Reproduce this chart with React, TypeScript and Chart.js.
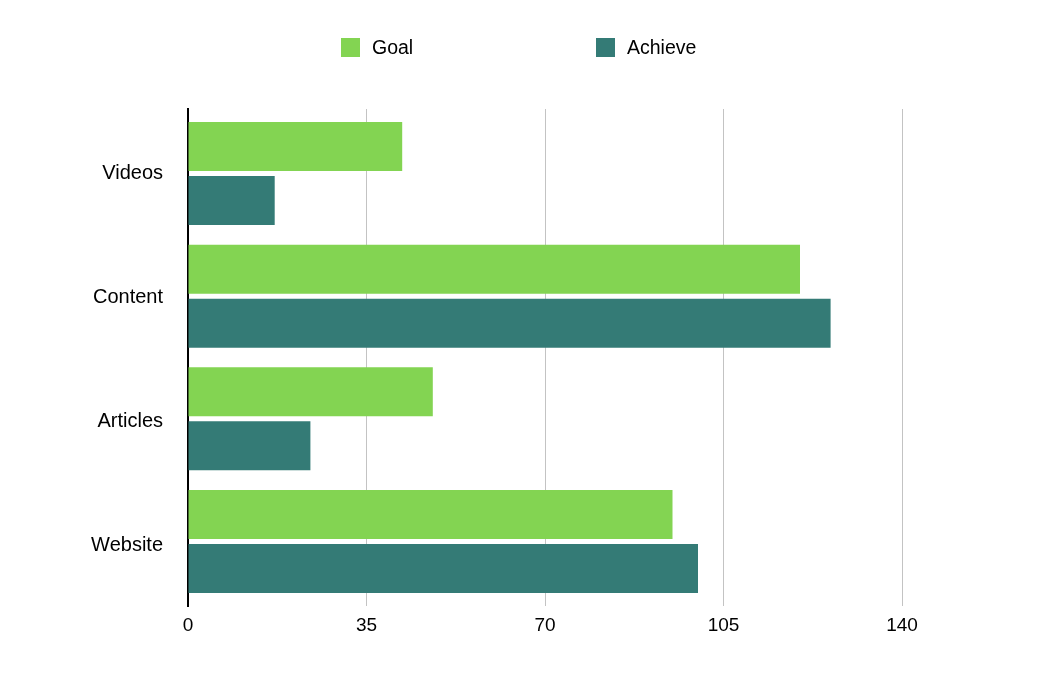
import React, { useEffect, useRef } from 'react';
import Chart from 'chart.js/auto';

const categories: string[] = ['Videos', 'Content', 'Articles', 'Website'];
const goalValues: number[] = [42, 120, 48, 95];
const achieveValues: number[] = [17, 126, 24, 100];
const xTicks: number[] = [0, 35, 70, 105, 140];

const GOAL_COLOR = '#83d452';
const ACHIEVE_COLOR = '#347b76';
const FONT = '"Liberation Sans", Arial, Helvetica, sans-serif';

// bars sit in slightly narrower bands than the labels / axis line
const bandInset = {
  id: 'bandInset',
  beforeDatasetsUpdate(chart: any) {
    const y = chart.scales.y;
    if (!y) return;
    y._startPixel = y.top + 3.2;
    y._endPixel = y.bottom - 3.2;
    y._length = y._endPixel - y._startPixel;
  },
  afterDatasetsUpdate(chart: any) {
    // labels use the full band, nudged down a touch
    const y = chart.scales.y;
    if (!y) return;
    y._startPixel = y.top + 2;
    y._endPixel = y.bottom + 2;
    y._length = y.bottom - y.top;
  },
};

const App: React.FC = () => {
  const canvasRef = useRef<HTMLCanvasElement>(null);
  const chartRef = useRef<Chart | null>(null);

  useEffect(() => {
    document.body.style.margin = '0';
    if (!canvasRef.current) return;
    const ctx = canvasRef.current.getContext('2d');
    if (!ctx) return;

    if (chartRef.current) {
      chartRef.current.destroy();
    }

    chartRef.current = new Chart(ctx, {
      type: 'bar',
      data: {
        labels: categories,
        datasets: [
          {
            label: 'Goal',
            data: goalValues,
            backgroundColor: GOAL_COLOR,
            categoryPercentage: 0.88,
            barPercentage: 0.907,
          },
          {
            label: 'Achieve',
            data: achieveValues,
            backgroundColor: ACHIEVE_COLOR,
            categoryPercentage: 0.88,
            barPercentage: 0.907,
          },
        ],
      },
      options: {
        indexAxis: 'y',
        animation: false,
        responsive: false,
        maintainAspectRatio: false,
        layout: {
          padding: { top: 109, right: 144, bottom: 0, left: 0 },
        },
        plugins: {
          legend: { display: false },
          tooltip: { enabled: false },
        },
        scales: {
          x: {
            min: 0,
            max: 140,
            afterBuildTicks: (scale: any) => {
              scale.ticks = xTicks.map((v) => ({ value: v }));
            },
            afterFit: (scale: any) => {
              scale.height = 72;
            },
            grid: {
              color: (c: any) => (c.tick && c.tick.value === 0 ? 'rgba(0,0,0,0)' : '#c3c3c3'),
              lineWidth: 1,
              drawTicks: false,
            },
            border: { display: false },
            ticks: {
              padding: 8,
              color: '#000',
              font: { family: FONT, size: 19 },
            },
          },
          y: {
            afterFit: (scale: any) => {
              scale.width = 188;
            },
            grid: { display: false, drawTicks: false },
            border: { display: true, color: '#000', width: 2 },
            ticks: {
              padding: 25,
              color: '#000',
              font: { family: FONT, size: 20 },
            },
          },
        },
      },
      plugins: [bandInset],
    });

    return () => {
      if (chartRef.current) {
        chartRef.current.destroy();
        chartRef.current = null;
      }
    };
  }, []);

  const legendText: React.CSSProperties = {
    position: 'absolute',
    top: 36,
    fontFamily: FONT,
    fontSize: 19.5,
    lineHeight: '23px',
    color: '#000',
  };

  return (
    <div style={{ position: 'relative', width: 1046, height: 678, background: '#fff' }}>
      {/* Legend */}
      <div style={{ position: 'absolute', left: 341, top: 38, width: 19, height: 19, background: GOAL_COLOR }} />
      <span style={{ ...legendText, left: 372 }}>Goal</span>
      <div style={{ position: 'absolute', left: 596, top: 38, width: 19, height: 19, background: ACHIEVE_COLOR }} />
      <span style={{ ...legendText, left: 627 }}>Achieve</span>
      <canvas ref={canvasRef} width={1046} height={678} style={{ display: 'block' }} />
    </div>
  );
};

export default App;
